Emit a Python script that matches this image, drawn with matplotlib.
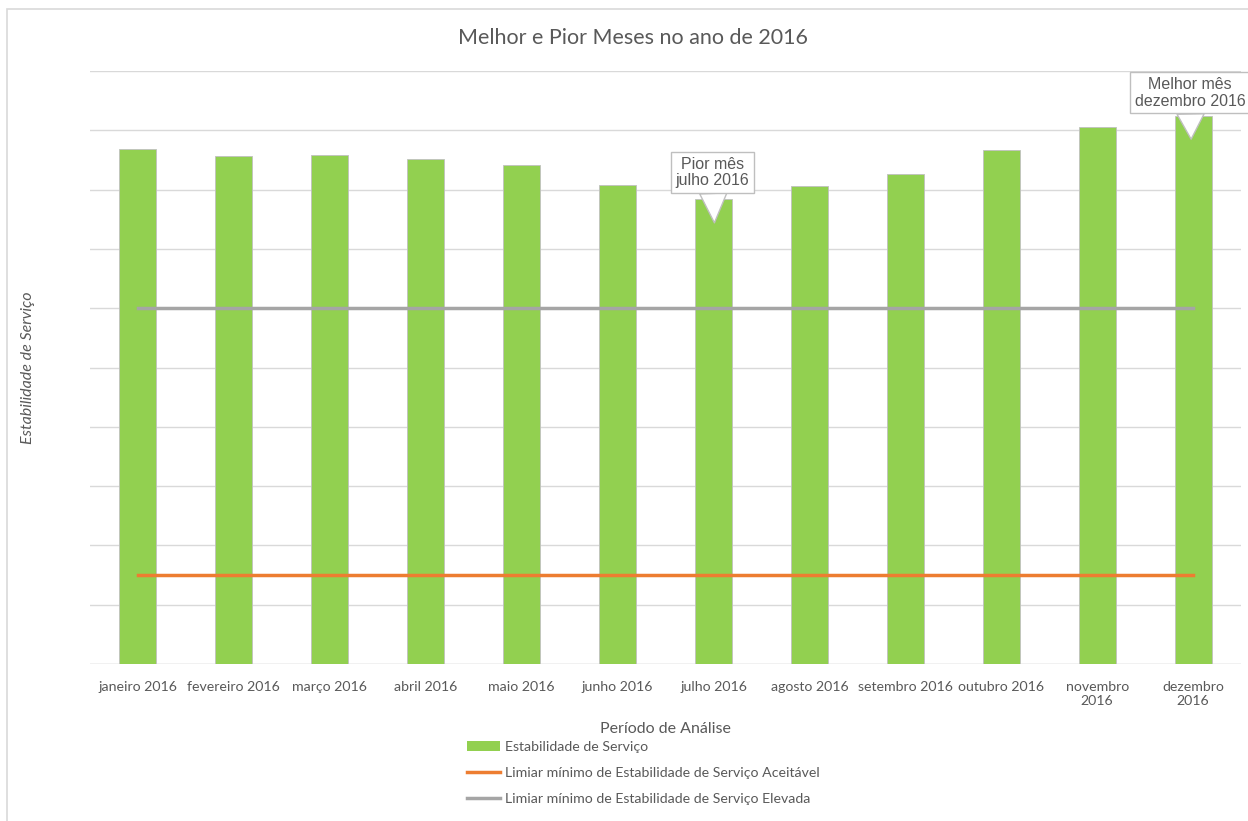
import numpy as np
import matplotlib
matplotlib.use('Agg')
import matplotlib.pyplot as plt
from matplotlib.patches import Rectangle
from matplotlib.lines import Line2D
from matplotlib.patches import Patch

plt.rcParams['font.family'] = ['Lato', 'DejaVu Sans']

meses = ['janeiro 2016', 'fevereiro 2016', 'março 2016', 'abril 2016', 'maio 2016',
         'junho 2016', 'julho 2016', 'agosto 2016', 'setembro 2016', 'outubro 2016',
         'novembro\n2016', 'dezembro\n2016']
estabilidade = [8.68, 8.57, 8.58, 8.52, 8.41, 8.08, 7.84, 8.06, 8.26, 8.67, 9.06, 9.24]
limiar_aceitavel = [1.5] * 12
limiar_elevada = [6.0] * 12

cinza_txt = '#595959'
verde = '#92d050'
laranja = '#ed7d31'
cinza = '#a5a5a5'

fig = plt.figure(figsize=(12.48, 8.21), dpi=100)
ax = fig.add_axes([0.0721, 0.1912, 0.9223, 0.7223])

# moldura do gráfico (estilo Excel)
fig.patches.append(Rectangle((7 / 1248, -0.05), 1.1, 1 - 9 / 821 + 0.05,
                             transform=fig.transFigure, fill=False,
                             edgecolor='#d9d9d9', linewidth=1.2))

x = np.arange(len(meses))
ax.bar(x, estabilidade, width=0.385, color=verde, edgecolor='#c0c0c0', linewidth=0.6, zorder=2)
ax.plot(x, limiar_aceitavel, color=laranja, linewidth=2.5, zorder=3)
ax.plot(x, limiar_elevada, color=cinza, linewidth=2.5, zorder=3)

ax.set_xlim(-0.5, len(meses) - 0.5)
ax.set_ylim(0, 10)
ax.set_yticks(np.arange(0, 11, 1))
ax.set_yticklabels([])
ax.tick_params(axis='y', length=0)
ax.tick_params(axis='x', length=0, pad=12, labelsize=10.2, labelcolor=cinza_txt)
ax.set_xticks(x)
ax.set_xticklabels(meses)
ax.grid(axis='y', color='#d9d9d9', linewidth=1, zorder=0)
for s in ax.spines.values():
    s.set_visible(False)
ax.axhline(0, color='#d9d9d9', linewidth=1, zorder=1)

fig.text(633 / 1248, 1 - 38 / 821, 'Melhor e Pior Meses no ano de 2016', ha='center',
         va='center', fontsize=15.5, color=cinza_txt)
fig.text(665 / 1248, 1 - 729 / 821, 'Período de Análise', ha='center', va='center',
         fontsize=11.5, color=cinza_txt)
fig.text(28 / 1248, 1 - 368 / 821, 'Estabilidade de Serviço', rotation=90, ha='center',
         va='center', fontsize=11.5, color=cinza_txt, style='italic')

# balões de destaque
caixa = dict(boxstyle='square,pad=0.3', fc='white', ec='#bfbfbf', lw=1)
seta = dict(arrowstyle='wedge,tail_width=1.7,shrink_factor=0.5', fc='white', ec='#bfbfbf',
            lw=1, shrinkA=0, shrinkB=0)
ax.annotate('Pior mês\njulho 2016', xy=(x[6] + 0.01, estabilidade[6] - 0.40),
            xytext=(x[6] - 0.01, estabilidade[6] + 0.45), ha='center', va='center',
            fontsize=11.5, color=cinza_txt, bbox=caixa, arrowprops=seta, zorder=5,
            linespacing=1.12, family=['Liberation Sans', 'DejaVu Sans'])
ax.annotate('Melhor mês\ndezembro 2016', xy=(x[11] - 0.02, estabilidade[11] - 0.39),
            xytext=(x[11] - 0.03, estabilidade[11] + 0.39), ha='center', va='center',
            fontsize=11.5, color=cinza_txt, bbox=caixa, arrowprops=seta, zorder=5,
            linespacing=1.12, family=['Liberation Sans', 'DejaVu Sans'])

handles = [Patch(facecolor=verde, edgecolor='none'),
           Line2D([0], [0], color=laranja, linewidth=2.5),
           Line2D([0], [0], color=cinza, linewidth=2.5)]
labels = ['Estabilidade de Serviço',
          'Limiar mínimo de Estabilidade de Serviço Aceitável',
          'Limiar mínimo de Estabilidade de Serviço Elevada']
leg = fig.legend(handles, labels, loc='upper left', bbox_to_anchor=(467 / 1248, 1 - 741 / 821),
                 frameon=False, fontsize=10.2, labelcolor=cinza_txt, handlelength=2.3,
                 handletextpad=0.4, labelspacing=1.0, borderaxespad=0, borderpad=0)

fig.savefig('out.png', dpi=100)
